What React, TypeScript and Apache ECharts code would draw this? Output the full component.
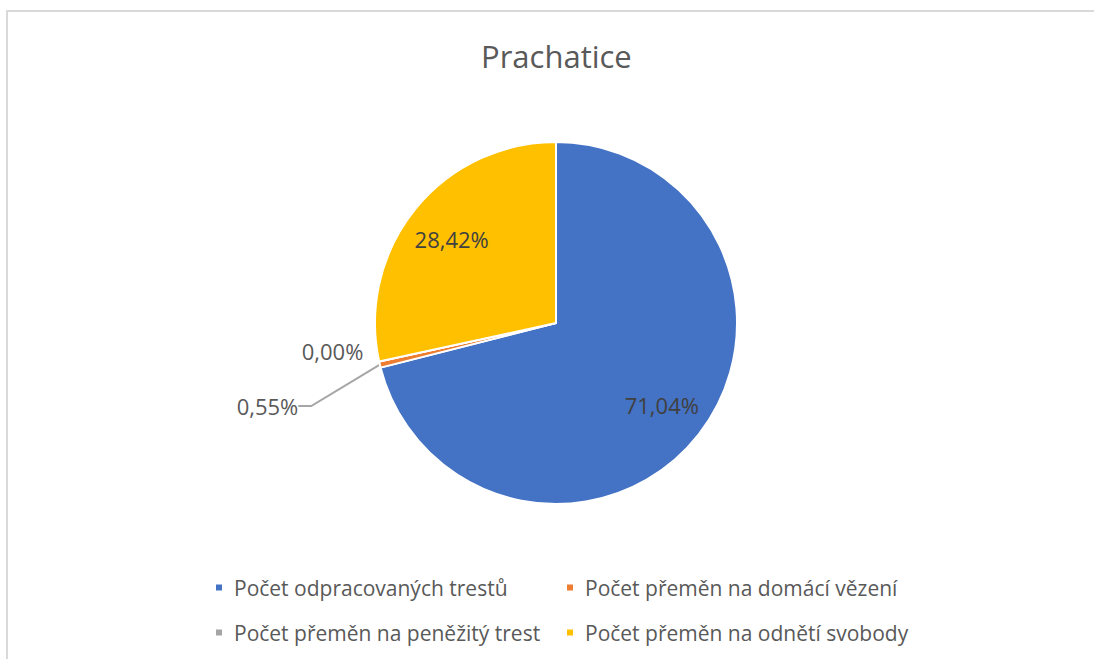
import React, { useEffect, useRef } from 'react';
import * as echarts from 'echarts';

const chartTitle = 'Prachatice';
const categories = [
  'Počet odpracovaných trestů',
  'Počet přeměn na domácí vězení',
  'Počet přeměn na peněžitý trest',
  'Počet přeměn na odnětí svobody',
];
const shares = [71.04, 0.55, 0.0, 28.42];
const colors = ['#4472C4', '#ED7D31', '#A5A5A5', '#FFC000'];

const FONT = '"Open Sans", "Noto Sans", sans-serif';
const fmt = (v: number) => v.toFixed(2).replace('.', ',') + '%';

export default function App() {
  const ref = useRef<HTMLDivElement>(null);
  useEffect(() => {
    document.body.style.margin = '0';
    if (!ref.current) return;
    const chart = echarts.init(ref.current, undefined, { renderer: 'svg' });
    const insideIdx = [0, 3];
    const mainData = categories.map((name, i) => {
      const item: any = { name, value: shares[i], itemStyle: { color: colors[i] } };
      if (i === 1) {
        item.label = { show: true, position: 'outside' };
        item.labelLine = { show: true, length: 15, length2: 13, lineStyle: { color: '#A6A6A6', width: 2 } };
      } else if (i === 2) {
        item.label = { show: true, position: 'outside' };
        item.labelLine = { show: false, length: 8, length2: 0 };
      } else {
        item.label = { show: false };
        item.labelLine = { show: false };
      }
      return item;
    });
    const overlayData = categories.map((name, i) => ({
      name,
      value: shares[i],
      itemStyle: { color: 'rgba(0,0,0,0)' },
      label: { show: insideIdx.includes(i) },
    }));
    chart.setOption({
      animation: false,
      backgroundColor: '#ffffff',
      title: {
        text: chartTitle,
        left: 476,
        top: 35,
        textStyle: { fontFamily: FONT, fontSize: 31, fontWeight: 'normal', color: '#595959' },
      },
      legend: {
        left: 209,
        top: 562,
        width: 720,
        orient: 'horizontal',
        itemWidth: 8,
        itemHeight: 8,
        itemGap: 4,
        icon: 'rect',
        selectedMode: false,
        data: categories.map((name, i) => ({ name, itemStyle: { color: colors[i] } })),
        textStyle: {
          fontFamily: FONT,
          fontSize: 21,
          color: '#595959',
          width: 327,
          lineHeight: 41,
          padding: [0, 0, 0, 6],
        },
      },
      graphic: [
        { type: 'line', shape: { x1: 6, y1: 11, x2: 1094, y2: 11 }, style: { stroke: '#D9D9D9', lineWidth: 2 } },
        { type: 'line', shape: { x1: 7, y1: 10, x2: 7, y2: 659 }, style: { stroke: '#D9D9D9', lineWidth: 2 } },
      ],
      series: [
        {
          type: 'pie',
          center: [556, 323],
          radius: 181,
          startAngle: 90,
          clockwise: true,
          avoidLabelOverlap: false,
          itemStyle: { borderColor: '#ffffff', borderWidth: 2 },
          label: {
            fontFamily: FONT,
            fontSize: 22,
            color: '#595959',
            formatter: (p: any) => fmt(p.value),
          },
          labelLayout: (p: any) => {
            const r = p.labelRect;
            if (p.dataIndex === 1) {
              return { x: r.x + r.width - 49, y: r.y + r.height / 2 + 38 };
            }
            if (p.dataIndex === 2) {
              return { x: r.x + r.width - 3, y: r.y + r.height / 2 - 12 };
            }
            return {};
          },
          emphasis: { disabled: true },
          data: mainData,
        },
        {
          type: 'pie',
          center: [556, 323],
          radius: 262,
          startAngle: 90,
          clockwise: true,
          silent: true,
          avoidLabelOverlap: false,
          label: {
            position: 'inside',
            fontFamily: FONT,
            fontSize: 22,
            color: '#404040',
            formatter: (p: any) => fmt(p.value),
          },
          labelLine: { show: false },
          emphasis: { disabled: true },
          data: overlayData,
        },
      ],
    });
    return () => chart.dispose();
  }, []);
  return <div ref={ref} style={{ width: 1094, height: 659 }} />;
}
